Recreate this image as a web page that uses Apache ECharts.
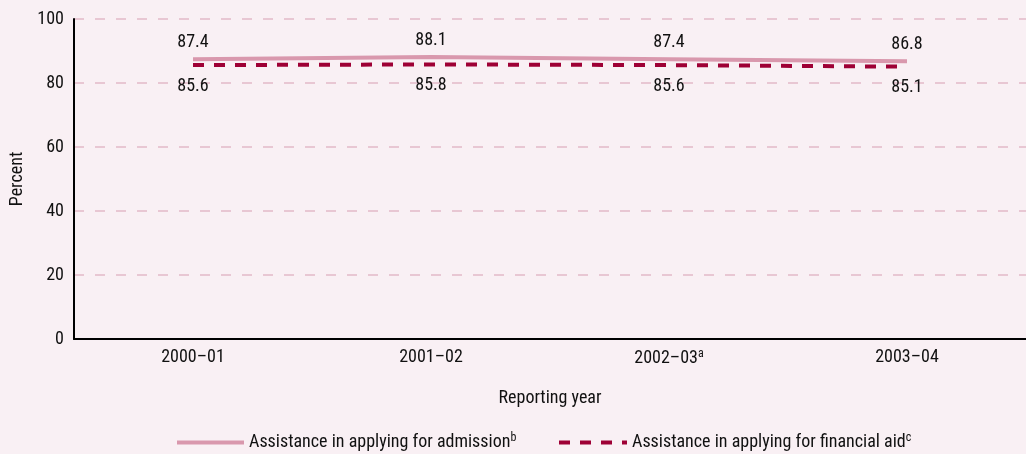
<!DOCTYPE html>
<html>
<head>
<meta charset="utf-8">
<script src="https://cdn.jsdelivr.net/npm/echarts@6/dist/echarts.min.js"></script>
<style>
  html, body { margin: 0; padding: 0; background: #f9f0f4; }
  #chart { width: 1026px; height: 454px; }
</style>
</head>
<body>
<div id="chart"></div>
<script>
// Reporting years on the category axis (superscript note letter kept separate)
const years = ['2000–01', '2001–02', '2002–03', '2003–04'];
const yearNotes = ['', '', 'a', ''];
// Percent of schools offering each kind of assistance
const admission = [87.4, 88.1, 87.4, 86.8];
const financialAid = [85.6, 85.8, 85.6, 85.1];
const yTicks = [0, 20, 40, 60, 80, 100];

const FONT = '"Roboto Condensed", "DejaVu Sans Condensed", sans-serif';
const FS = 18;
const TEXT = '#111111';
const PINK = '#d998ad';
const CRIMSON = '#9e0035';

const richText = {
  t: { fontSize: FS, fontFamily: FONT, color: TEXT },
  s: { fontSize: 12, fontFamily: FONT, color: TEXT, verticalAlign: 'top', padding: [0, 0, 9, 0] }
};

const chart = echarts.init(document.getElementById('chart'));
chart.setOption({
  backgroundColor: '#f9f0f4',
  textStyle: { fontFamily: FONT, color: TEXT },
  grid: { left: 72, right: -6, top: 19, bottom: 115 },
  xAxis: {
    type: 'category',
    data: years,
    boundaryGap: true,
    name: 'Reporting year',
    nameLocation: 'middle',
    nameGap: 50,
    nameTextStyle: { fontSize: FS, color: TEXT, fontFamily: FONT },
    axisLine: { lineStyle: { color: '#000', width: 2 } },
    axisTick: { show: false },
    axisLabel: {
      margin: 9,
      fontSize: FS,
      color: TEXT,
      fontFamily: FONT,
      formatter: function (v, i) {
        return yearNotes[i] ? '{t|' + v + '}{s|' + yearNotes[i] + '}' : '{t|' + v + '}';
      },
      rich: richText
    }
  },
  yAxis: {
    type: 'value',
    min: 0,
    max: 100,
    interval: 20,
    name: 'Percent',
    nameLocation: 'middle',
    nameGap: 48,
    nameTextStyle: { fontSize: FS, color: TEXT, fontFamily: FONT },
    axisLine: { show: true, lineStyle: { color: '#000', width: 2 } },
    axisTick: { show: false },
    axisLabel: {
      fontSize: FS, color: TEXT, fontFamily: FONT, margin: 10,
      formatter: function (v) { return yTicks.indexOf(v) >= 0 ? String(v) : ''; }
    },
    splitLine: { lineStyle: { color: '#e2b9c8', width: 1.5, type: [10, 11] } }
  },
  legend: [
    {
      data: ['admission'],
      left: 175, top: 432,
      padding: 0,
      itemWidth: 67, itemHeight: 12,
      itemStyle: { opacity: 0 },
      lineStyle: { width: 4 },
      formatter: function () {
        return '{t|Assistance in applying for admission}{s|b}';
      },
      textStyle: { rich: richText }
    },
    {
      data: ['aid'],
      left: 557, top: 432,
      padding: 0,
      itemWidth: 68, itemHeight: 12,
      itemStyle: { opacity: 0 },
      lineStyle: { width: 4 },
      formatter: function () {
        return '{t|Assistance in applying for financial aid}{s|c}';
      },
      textStyle: { rich: richText }
    }
  ],
  series: [
    {
      name: 'admission',
      type: 'line',
      data: admission,
      symbol: 'circle',
      symbolSize: 0,
      showSymbol: true,
      color: PINK,
      lineStyle: { color: PINK, width: 4 },
      label: {
        show: true, position: 'top', distance: 8,
        fontSize: FS, color: TEXT, fontFamily: FONT,
        formatter: function (p) { return p.value.toFixed(1); }
      },
      z: 3
    },
    {
      name: 'aid',
      type: 'line',
      data: financialAid,
      symbol: 'circle',
      symbolSize: 0,
      showSymbol: true,
      color: CRIMSON,
      lineStyle: { color: CRIMSON, width: 4, type: [11, 10] },
      label: {
        show: true, position: 'bottom', distance: 12,
        fontSize: FS, color: TEXT, fontFamily: FONT,
        formatter: function (p) { return p.value.toFixed(1); }
      },
      z: 4
    }
  ]
});
</script>
</body>
</html>
